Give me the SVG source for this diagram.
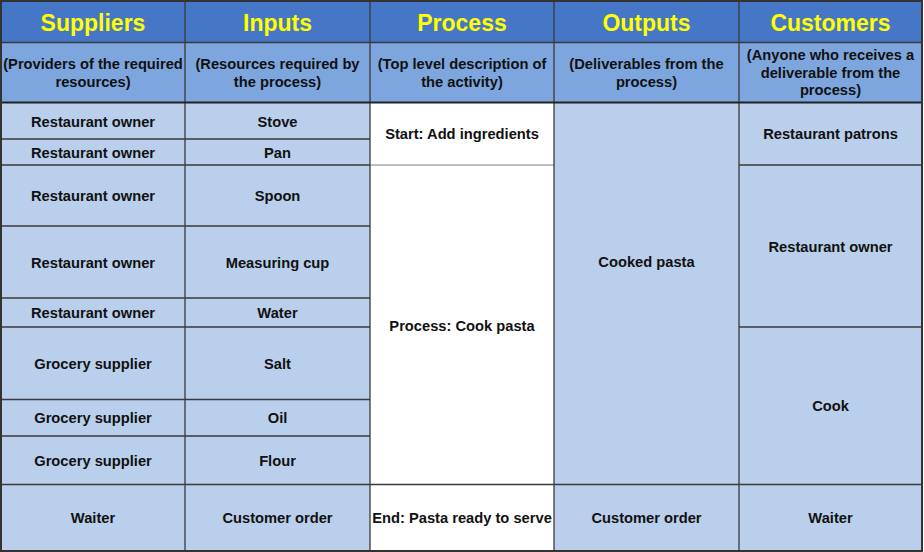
<svg xmlns="http://www.w3.org/2000/svg" width="924" height="552" viewBox="0 0 924 552">
<style>
.h{fill:#4676C6}
.s{fill:#7DA6DE}
.b{fill:#B9CFEB}
.w{fill:#FFFFFF}
.ln{stroke:#3A3A3A;stroke-width:1.3;fill:none}
.lt{stroke:#7F7F7F;stroke-width:1;fill:none}
text{font-family:"Liberation Sans",Arial,sans-serif;font-weight:bold;text-anchor:middle}
.ht{fill:#FFFF00;font-size:23px}
.st{fill:#111111;font-size:14.7px}
.bt{fill:#111111;font-size:14.7px}
</style>
<rect width="924" height="552" fill="#FFFFFF"/>
<g id="header">
<rect class="h" x="1" y="1" width="921" height="41.5"/>
<rect class="s" x="1" y="42.5" width="921" height="60"/>
<text class="ht" x="93" y="31">Suppliers</text>
<text class="ht" x="277.5" y="31">Inputs</text>
<text class="ht" x="462" y="31">Process</text>
<text class="ht" x="646.5" y="31">Outputs</text>
<text class="ht" x="830.5" y="31">Customers</text>
<text class="st" x="93" y="69">(Providers of the required</text>
<text class="st" x="93" y="86.5">resources)</text>
<text class="st" x="277.5" y="69">(Resources required by</text>
<text class="st" x="277.5" y="86.5">the process)</text>
<text class="st" x="462" y="69">(Top level description of</text>
<text class="st" x="462" y="86.5">the activity)</text>
<text class="st" x="646.5" y="69">(Deliverables from the</text>
<text class="st" x="646.5" y="86.5">process)</text>
<text class="st" x="830.5" y="60">(Anyone who receives a</text>
<text class="st" x="830.5" y="77.5">deliverable from the</text>
<text class="st" x="830.5" y="95">process)</text>
</g>
<g id="suppliers">
<rect class="b" x="1" y="102.5" width="184" height="448.5"/>
<text class="bt" x="93" y="127">Restaurant owner</text>
<text class="bt" x="93" y="157.5">Restaurant owner</text>
<text class="bt" x="93" y="201">Restaurant owner</text>
<text class="bt" x="93" y="267.5">Restaurant owner</text>
<text class="bt" x="93" y="318">Restaurant owner</text>
<text class="bt" x="93" y="368.5">Grocery supplier</text>
<text class="bt" x="93" y="423">Grocery supplier</text>
<text class="bt" x="93" y="465.5">Grocery supplier</text>
<text class="bt" x="93" y="523">Waiter</text>
</g>
<g id="inputs">
<rect class="b" x="185" y="102.5" width="185" height="448.5"/>
<text class="bt" x="277.5" y="127">Stove</text>
<text class="bt" x="277.5" y="157.5">Pan</text>
<text class="bt" x="277.5" y="201">Spoon</text>
<text class="bt" x="277.5" y="267.5">Measuring cup</text>
<text class="bt" x="277.5" y="318">Water</text>
<text class="bt" x="277.5" y="368.5">Salt</text>
<text class="bt" x="277.5" y="423">Oil</text>
<text class="bt" x="277.5" y="465.5">Flour</text>
<text class="bt" x="277.5" y="523">Customer order</text>
</g>
<g id="process">
<rect class="w" x="370" y="102.5" width="184" height="448.5"/>
<text class="bt" x="462" y="139">Start: Add ingredients</text>
<text class="bt" x="462" y="330.5">Process: Cook pasta</text>
<text class="bt" x="462" y="523">End: Pasta ready to serve</text>
</g>
<g id="outputs">
<rect class="b" x="554" y="102.5" width="185" height="448.5"/>
<text class="bt" x="646.5" y="267">Cooked pasta</text>
<text class="bt" x="646.5" y="523">Customer order</text>
</g>
<g id="customers">
<rect class="b" x="739" y="102.5" width="183" height="448.5"/>
<text class="bt" x="830.5" y="139">Restaurant patrons</text>
<text class="bt" x="830.5" y="252">Restaurant owner</text>
<text class="bt" x="830.5" y="411">Cook</text>
<text class="bt" x="830.5" y="523">Waiter</text>
</g>
<g id="connectors">
<path class="lt" d="M370 165H554"/>
<path class="ln" d="M1 139H370M1 165H370M1 226H370M1 298H370M1 327H370M1 399.5H370M1 436H370"/>
<path class="ln" d="M739 165H922M739 327H922"/>
<path class="ln" d="M1 484.5H922"/>
<path class="ln" d="M185 1V551M370 1V551M554 1V551M739 1V551"/>
<path class="ln" d="M1 42.5H922"/>
<path stroke="#222222" stroke-width="2" d="M1 102.5H922"/>
<rect x="1" y="1" width="921" height="550" fill="none" stroke="#333333" stroke-width="2"/>
</g>
</svg>
